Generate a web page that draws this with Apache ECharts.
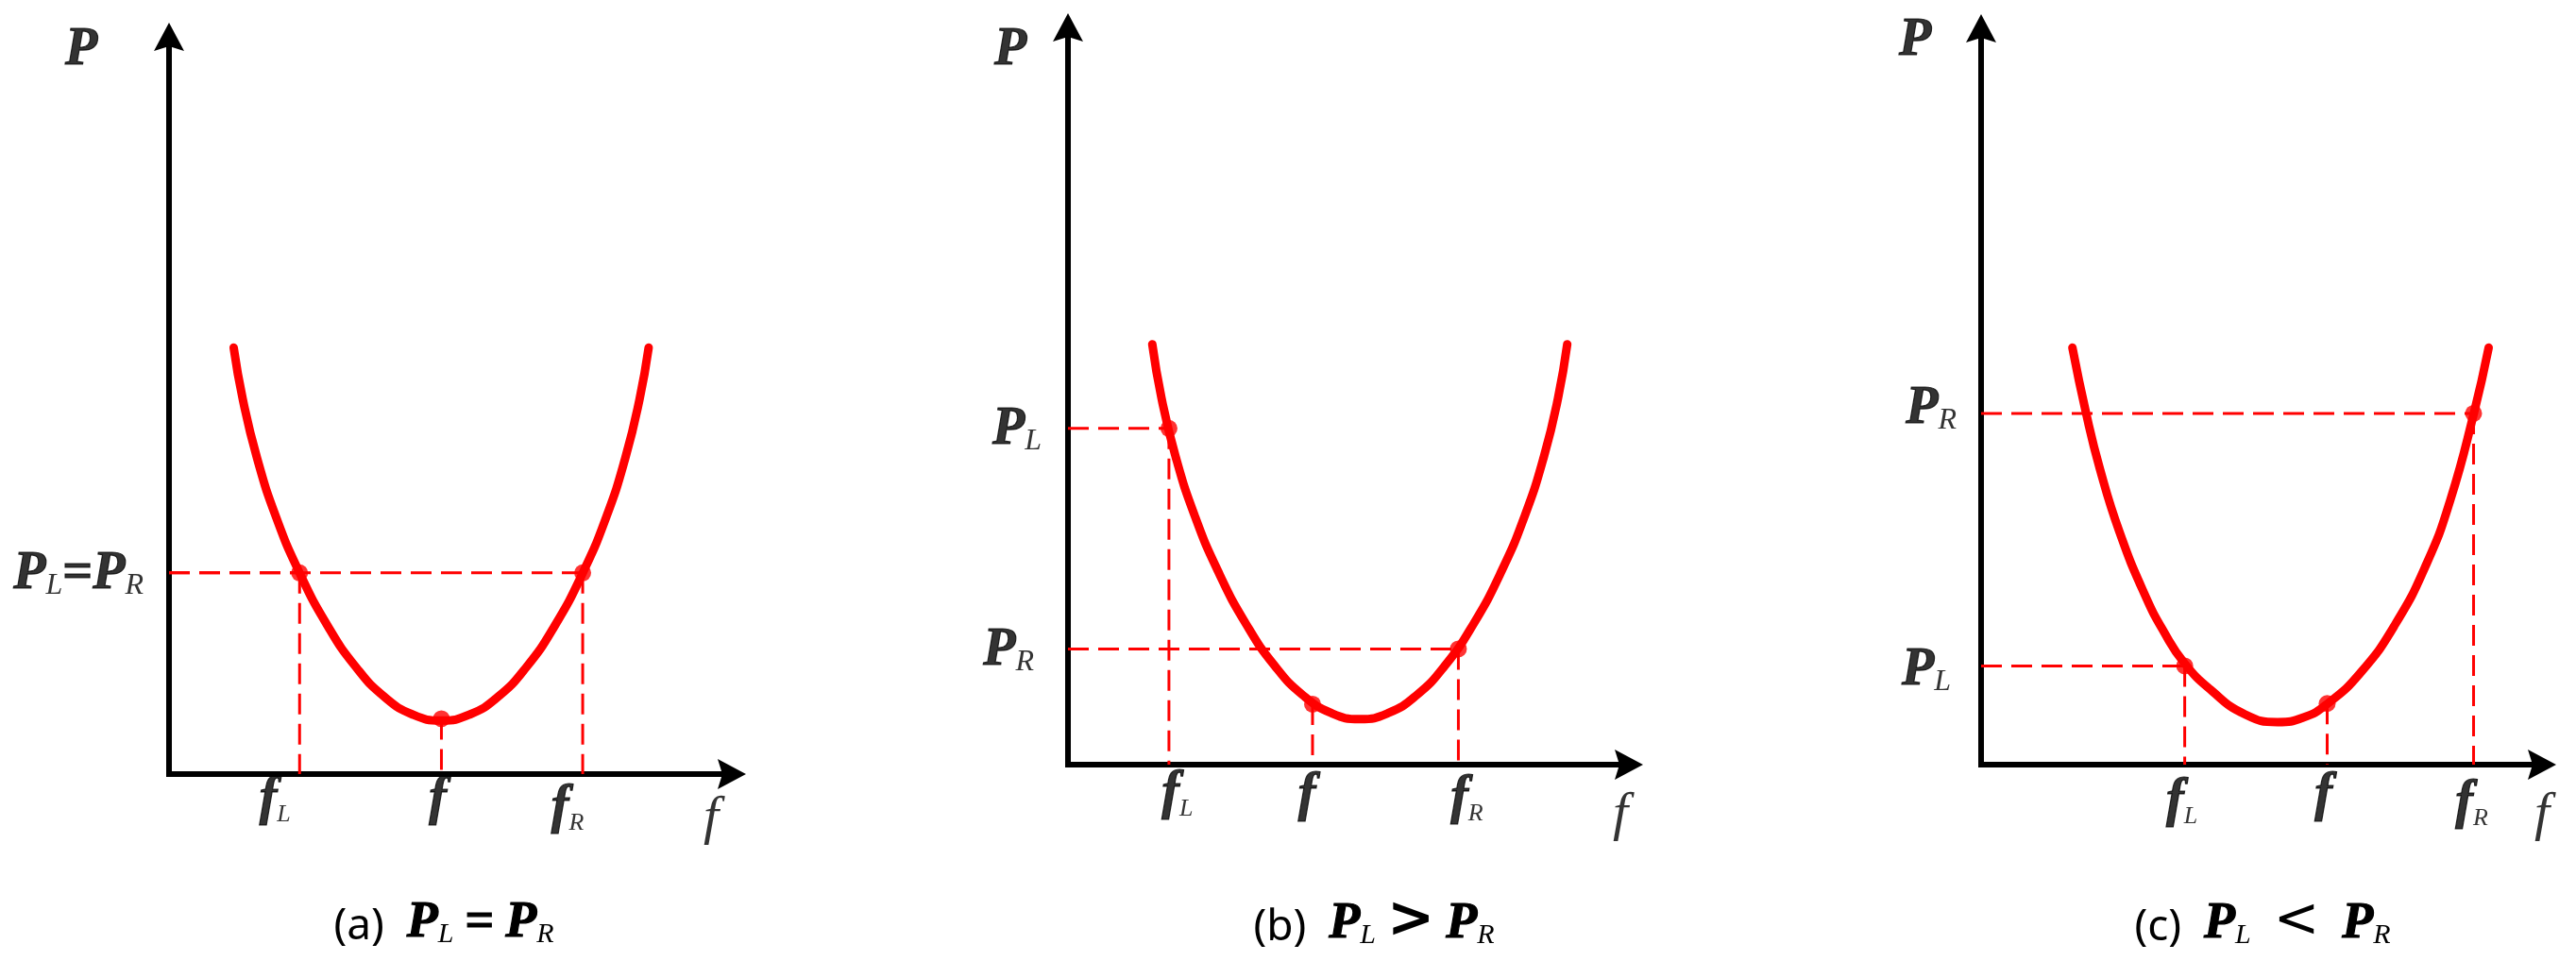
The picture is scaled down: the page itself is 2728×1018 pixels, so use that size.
<!DOCTYPE html>
<html>
<head>
<meta charset="utf-8">
<script src="https://cdn.jsdelivr.net/npm/echarts@6/dist/echarts.min.js"></script>
<style>
html,body{margin:0;padding:0;background:#fff;}
#chart{width:2728px;height:1018px;}
</style>
</head>
<body>
<div id="chart"></div>
<script>
// ---------- DATA (f and P in arbitrary axis units 0..10) ----------
// Panel (a)  P_L = P_R
const curveA_f = [1.149,1.312,1.564,1.899,2.319,2.822,3.326,3.829,4.332,4.836,5.339,5.842,6.346,6.849,7.352,7.772,8.107,8.359,8.522];
const curveA_P = [5.784,5.079,4.286,3.492,2.729,2.006,1.447,1.046,0.807,0.726,0.807,1.046,1.447,2.006,2.729,3.492,4.286,5.079,5.784];
const keyA_f = [2.32, 4.84, 7.35];      // f_L, f, f_R
const keyA_P = [2.73, 0.75, 2.73];      // P at f_L, f, f_R

// Panel (b)  P_L > P_R
const curveB_f = [1.503,1.667,1.919,2.256,2.677,3.182,3.687,4.192,4.697,5.202,5.707,6.212,6.717,7.222,7.727,8.148,8.485,8.737,8.901];
const curveB_P = [5.702,4.972,4.178,3.384,2.621,1.899,1.339,0.939,0.699,0.618,0.699,0.939,1.339,1.899,2.621,3.384,4.178,4.972,5.702];
const keyB_f = [1.80, 4.36, 6.96];
const keyB_P = [4.56, 0.82, 1.57];

// Panel (c)  P_L < P_R
const curveC_f = [1.628,1.874,2.118,2.466,2.919,3.266,3.631,4.108,4.697,5.286,5.747,6.165,6.759,7.387,7.946,8.364,8.783,9.049];
const curveC_P = [5.663,4.765,4.017,3.163,2.308,1.795,1.372,1.006,0.686,0.577,0.641,0.821,1.244,1.910,2.735,3.590,4.765,5.663];
const keyC_f = [3.63, 6.17, 8.78];
const keyC_P = [1.34, 0.83, 4.77];

// Tick / axis texts
const xTickTexts = ['f_L', 'f', 'f_R'];
const yTickTextsA = ['P_L=P_R'];
const yTickTextsB = ['P_L', 'P_R'];
const yTickTextsC = ['P_R', 'P_L'];
const yAxisName = 'P';
const xAxisName = 'f';
const captionTexts = ['(a)  P_L = P_R', '(b)  P_L > P_R', '(c)  P_L  <  P_R'];

// ---------- LAYOUT / STYLE ----------
const RED = '#ff0000';
const ARROW = 'path://M16,0 L32,30 L16,25 L0,30 Z';
const SERIF = 'Liberation Serif';

const layout = [
  { grid:{left:179, top:39, width:596, height:781}, cap:[470,975],
    pName:[-93,13], fName:[-22,47], xOff:[[-26,26],[-4,26],[-16,35]], yOff:[[-27,0]] },
  { grid:{left:1131, top:29, width:594, height:781}, cap:[1455,975],
    pName:[-61,23], fName:[-9,53], xOff:[[9,30],[-6,32],[9,35]], yOff:[[-28,0],[-36,0]] },
  { grid:{left:2098, top:30, width:594, height:780}, cap:[2396,975],
    pName:[-70,12], fName:[0,53], xOff:[[-3,38],[-4,32],[-2,40]], yOff:[[-26,-6],[-32,3]] }
];

const panels = [
  { cf:curveA_f, cp:curveA_P, kf:keyA_f, kp:keyA_P, yTexts:yTickTextsA, yVals:[keyA_P[0]] },
  { cf:curveB_f, cp:curveB_P, kf:keyB_f, kp:keyB_P, yTexts:yTickTextsB, yVals:[keyB_P[0], keyB_P[2]] },
  { cf:curveC_f, cp:curveC_P, kf:keyC_f, kp:keyC_P, yTexts:yTickTextsC, yVals:[keyC_P[2], keyC_P[0]] }
];

// text thickening: ECharts label naming vs. raw zrender naming (graphic component)
const HEAVY = {textBorderColor:'#000', textBorderWidth:1.2};
const HEAVY_ZR = {stroke:'#000', lineWidth:1.2};

const LABEL_RICH = {
  b:  Object.assign({fontFamily:SERIF, fontStyle:'italic', fontWeight:'bold', fontSize:56, lineHeight:60, verticalAlign:'bottom', color:'#000'}, HEAVY),
  s:  {fontFamily:SERIF, fontStyle:'italic', fontWeight:'normal', fontSize:32, lineHeight:44, verticalAlign:'bottom', color:'#000'},
  sf: {fontFamily:SERIF, fontStyle:'italic', fontWeight:'normal', fontSize:26, lineHeight:40, verticalAlign:'bottom', color:'#000'},
  e:  Object.assign({fontFamily:SERIF, fontStyle:'normal', fontWeight:'bold', fontSize:56, lineHeight:60, verticalAlign:'bottom', color:'#000'}, HEAVY),
  n:  {fontFamily:SERIF, fontStyle:'italic', fontWeight:'normal', fontSize:58, lineHeight:60, verticalAlign:'bottom', color:'#000'}
};

const CAP_RICH = {
  n: {fontFamily:'Noto Sans', fontSize:46, lineHeight:54, verticalAlign:'bottom', fill:'#000'},
  b: Object.assign({fontFamily:SERIF, fontStyle:'italic', fontWeight:'bold', fontSize:54, lineHeight:60, verticalAlign:'bottom', fill:'#000'}, HEAVY_ZR),
  s: {fontFamily:SERIF, fontStyle:'italic', fontWeight:'normal', fontSize:30, lineHeight:44, verticalAlign:'bottom', fill:'#000'},
  e: Object.assign({fontFamily:SERIF, fontWeight:'bold', fontSize:54, lineHeight:60, verticalAlign:'bottom', fill:'#000'}, HEAVY_ZR),
  g: {fontFamily:'DejaVu Sans', fontWeight:'bold', fontSize:60, lineHeight:62, verticalAlign:'bottom', fill:'#000'},
  l: {fontFamily:'DejaVu Sans', fontWeight:'normal', fontSize:58, lineHeight:62, verticalAlign:'bottom', fill:'#000'}
};

function richTick(t, sub) {
  return t.replace(/([A-Za-z])(?:_([A-Za-z]))?/g, (m, a, b) => '{b|' + a + '}' + (b ? '{' + sub + '|' + b + '}' : ''))
          .replace(/=/g, '{e|=}');
}
function richCaption(t) {
  return t.split(/(\s+)/).map(p => {
    if (p === '') return '';
    if (/^\s+$/.test(p)) return '{n|' + p + '}';
    if (/^[A-Za-z]_[A-Za-z]$/.test(p)) return '{b|' + p[0] + '}{s|' + p[2] + '}';
    if (p === '=') return '{e|=}';
    if (p === '>') return '{g|>}';
    if (p === '<') return '{l|<}';
    return '{n|' + p + '}';
  }).join('');
}

function axisCommon(i) {
  return {
    gridIndex:i, type:'value', min:0, max:10,
    axisLine:{show:true, onZero:false, symbol:['none', ARROW], symbolSize:[32,30],
      lineStyle:{color:'#000', width:6, cap:'square'}},
    axisTick:{show:false}, axisLabel:{show:false}, splitLine:{show:false}
  };
}

function dashed(i, pts) {
  return { type:'line', xAxisIndex:i, yAxisIndex:i, data:pts, symbol:'none', clip:false, silent:true,
           lineStyle:{color:RED, width:3, type:[22,10]}, z:2 };
}

const grids = [], xAxes = [], yAxes = [], series = [], graphics = [];

panels.forEach((p, i) => {
  const L = layout[i];
  grids.push(Object.assign({containLabel:false, outerBoundsMode:'none'}, L.grid));
  xAxes.push(axisCommon(i));
  yAxes.push(axisCommon(i));

  // dashed guide lines
  p.kf.forEach((f, k) => {
    if (k !== 1) series.push(dashed(i, [[0, p.kp[k]], [f, p.kp[k]]]));
    series.push(dashed(i, [[f, p.kp[k]], [f, 0]]));
  });

  // power curve
  series.push({ type:'line', xAxisIndex:i, yAxisIndex:i, data:p.cf.map((f, j) => [f, p.cp[j]]),
    smooth:0.5, symbol:'none', clip:false, silent:true,
    lineStyle:{color:RED, width:9, cap:'round', join:'round'}, z:3 });

  // key points
  series.push({ type:'scatter', xAxisIndex:i, yAxisIndex:i, data:p.kf.map((f, k) => [f, p.kp[k]]),
    symbol:'circle', symbolSize:18, itemStyle:{color:RED}, clip:false, silent:true, z:4 });

  // texts
  const labels = [];
  p.kf.forEach((f, k) => {
    labels.push({ value:[f, 0], label:{ formatter:richTick(xTickTexts[k], 'sf'), offset:L.xOff[k] } });
  });
  p.yTexts.forEach((t, k) => {
    labels.push({ value:[0, p.yVals[k]], label:{ formatter:richTick(t, 's'), align:'right', offset:L.yOff[k] } });
  });
  labels.push({ value:[0, 10], label:{ formatter:richTick(yAxisName, 's'), offset:L.pName } });
  labels.push({ value:[10, 0], label:{ formatter:'{n|' + xAxisName + '}', offset:L.fName } });

  series.push({ type:'scatter', xAxisIndex:i, yAxisIndex:i, data:labels, symbolSize:0, clip:false, silent:true, z:5,
    label:{ show:true, position:'inside', rich:LABEL_RICH } });

  graphics.push({ type:'text', x:L.cap[0], y:L.cap[1], silent:true,
    style:{ text:richCaption(captionTexts[i]), rich:CAP_RICH, align:'center', verticalAlign:'middle', fill:'#000' } });
});

const chart = echarts.init(document.getElementById('chart'), null, {renderer:'canvas'});
chart.setOption({
  animation:false,
  backgroundColor:'#fff',
  grid:grids, xAxis:xAxes, yAxis:yAxes, series:series, graphic:graphics
});
</script>
</body>
</html>
